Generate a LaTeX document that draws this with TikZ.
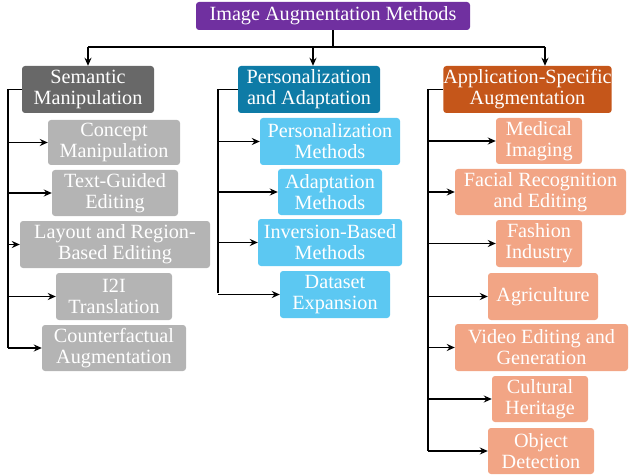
\documentclass[tikz,border=0pt]{standalone}
\usepackage{fontspec}
\setmainfont{Liberation Serif}
\usetikzlibrary{arrows.meta}
\definecolor{rootc}{HTML}{7030A0}
\definecolor{semc}{HTML}{686868}
\definecolor{semk}{HTML}{B4B4B4}
\definecolor{perc}{HTML}{0E7BA6}
\definecolor{perk}{HTML}{5CC8F2}
\definecolor{appc}{HTML}{C5561A}
\definecolor{appk}{HTML}{F2A585}
\begin{document}
\begin{tikzpicture}[x=1pt,y=-1pt,
  box/.style={rounded corners=3pt,text=white,align=center,inner sep=0pt,font=\fontsize{20.2}{21}\selectfont},
  conn/.style={line width=1.5pt,-{Stealth[length=8pt,width=7pt]}},
  ln/.style={line width=1.5pt}]
\useasboundingbox (0,0) rectangle (640,476);
\newcommand{\bx}[7]{\node[box,fill=#6,minimum width=#3-#2,minimum height=#5-#4] (#1) at ({(#2+#3)/2},{(#4+#5)/2}) {#7};}
\bx{root}{196}{470}{2}{30}{rootc}{Image Augmentation Methods}
\bx{sem}{22}{154}{66}{113}{semc}{Semantic\\Manipulation}
\bx{per}{238}{380}{66}{113}{perc}{Personalization\\and Adaptation}
\bx{app}{446}{609}{66}{113}{appc}{Application-Specific\\Augmentation}
\bx{s1}{48}{180}{120}{165}{semk}{Concept\\Manipulation}
\bx{s2}{52}{178}{170}{216}{semk}{Text-Guided\\Editing}
\bx{s3}{20}{210}{221}{268}{semk}{Layout and Region-\\Based Editing}
\bx{s4}{56}{172}{273}{320}{semk}{I2I\\Translation}
\bx{s5}{42}{186}{325}{371}{semk}{Counterfactual\\Augmentation}
\bx{p1}{260}{400}{118}{165}{perk}{Personalization\\Methods}
\bx{p2}{278}{382}{169}{215}{perk}{Adaptation\\Methods}
\bx{p3}{258}{402}{219}{266}{perk}{Inversion-Based\\Methods}
\bx{p4}{280}{390}{271}{318}{perk}{Dataset\\Expansion}
\bx{a1}{496}{582}{118}{164}{appk}{Medical\\Imaging}
\bx{a2}{455}{626}{169}{215}{appk}{Facial Recognition\\and Editing}
\bx{a3}{496}{582}{220}{267}{appk}{Fashion\\Industry}
\bx{a4}{488}{598}{273}{320}{appk}{Agriculture}
\bx{a5}{455}{628}{324}{371}{appk}{Video Editing and\\Generation}
\bx{a6}{492}{588}{376}{422}{appk}{Cultural\\Heritage}
\bx{a7}{488}{594}{428}{474}{appk}{Object\\Detection}
\coordinate (hl) at (88,47);
\coordinate (hr) at (545,47);
\draw[ln] (root.south) -- (333,47);
\draw[ln] (hl) -- (hr);
\draw[conn] (hl) -- (sem.north -| hl);
\draw[conn] (313,47) -- (per.north -| 313,0);
\draw[conn] (hr) -- (app.north -| hr);
\coordinate (sv) at (8,89.5);
\coordinate (pv) at (218,89.5);
\coordinate (av) at (428,89.5);
\draw[ln] (sem.west) -- (sv) -- (8,348);
\draw[ln] (per.west) -- (pv) -- (218,293);
\draw[ln] (app.west) -- (av) -- (428,451);
\foreach \n in {s1,s2,s3,s4,s5} \draw[conn] (\n.west -| sv) -- (\n.west);
\foreach \n in {p1,p2,p3,p4} \draw[conn] (\n.west -| pv) -- (\n.west);
\foreach \n in {a1,a2,a3,a4,a5,a6,a7} \draw[conn] (\n.west -| av) -- (\n.west);
\end{tikzpicture}
\end{document}
